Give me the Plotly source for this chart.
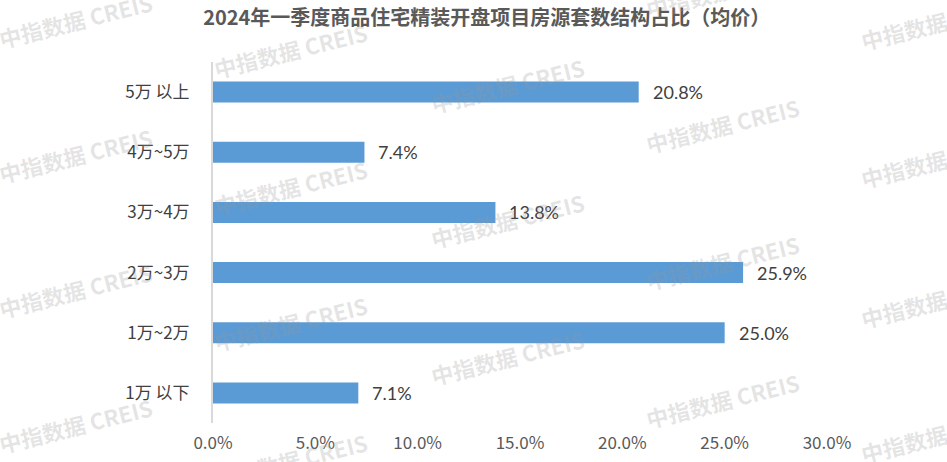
import plotly.graph_objects as go

categories = ["1万 以下", "1万~2万", "2万~3万", "3万~4万", "4万~5万", "5万 以上"]
shares = [7.1, 25.0, 25.9, 13.8, 7.4, 20.8]
tick_values = [0, 5, 10, 15, 20, 25, 30]
tick_labels = ["0.0%", "5.0%", "10.0%", "15.0%", "20.0%", "25.0%", "30.0%"]
title_text = "2024年一季度商品住宅精装开盘项目房源套数结构占比（均价）"
watermark_text = "中指数据 CREIS"

W, H = 947, 462
ML, MR, MT, MB = 213, 120, 62, 39
PW, PH = W - ML - MR, H - MT - MB

fig = go.Figure()
fig.add_trace(go.Bar(
    x=shares, y=categories, orientation="h",
    marker=dict(color="#5B9BD5", line=dict(width=0)),
    hoverinfo="skip",
))

annotations = []
for v, c in zip(shares, categories):
    annotations.append(dict(
        x=v, y=c, xref="x", yref="y", text=f"{v:.1f}%", showarrow=False,
        xanchor="left", yanchor="middle", xshift=12,
        font=dict(family="Lato, Liberation Sans, sans-serif", size=18, color="#404040"),
    ))

# watermark (decoration) centres in pixel space
wm_centres = [
    (75, 20), (75, 155), (75, 290), (75, 425),
    (290, 50), (290, 187), (290, 323), (290, 460),
    (507, 85), (507, 220), (507, 357),
    (722, -10), (722, 125), (722, 262), (722, 400),
    (937, 22), (937, 160), (937, 300), (937, 435),
]
for px, py in wm_centres:
    annotations.append(dict(
        x=(px - ML) / PW, y=(H - MB - py) / PH, xref="paper", yref="paper",
        text=f"<b>{watermark_text}</b>", showarrow=False, textangle=-14,
        xanchor="center", yanchor="middle",
        font=dict(family="Noto Sans CJK SC, sans-serif", size=22, color="rgba(150,150,150,0.25)"),
    ))

fig.update_layout(
    width=W, height=H,
    margin=dict(l=ML, r=MR, t=MT, b=MB, autoexpand=False),
    paper_bgcolor="white", plot_bgcolor="white",
    showlegend=False,
    bargap=0.65,
    title=dict(
        text=f"<b>{title_text}</b>", x=0.514, xanchor="center", y=0.962, yanchor="middle",
        font=dict(family="Noto Sans CJK SC, sans-serif", size=20, color="#595959"),
    ),
    xaxis=dict(
        range=[0, 30], tickvals=tick_values, ticktext=tick_labels,
        showgrid=False, zeroline=False, showline=False, ticks="",
        ticklabelstandoff=8,
        tickfont=dict(family="Noto Sans CJK SC, sans-serif", size=17, color="#595959"),
        fixedrange=True,
    ),
    yaxis=dict(
        categoryorder="array", categoryarray=categories,
        showgrid=False, zeroline=False, showline=True, linecolor="#D9D9D9", linewidth=2,
        ticks="", ticklabelstandoff=18,
        tickfont=dict(family="Noto Sans CJK SC, sans-serif", size=17, color="#404040"),
        fixedrange=True,
    ),
    annotations=annotations,
)

fig.write_html(
    "out.html",
    config={"displayModeBar": False},
    post_script="document.body.style.margin='0';document.body.style.overflow='hidden';",
)
